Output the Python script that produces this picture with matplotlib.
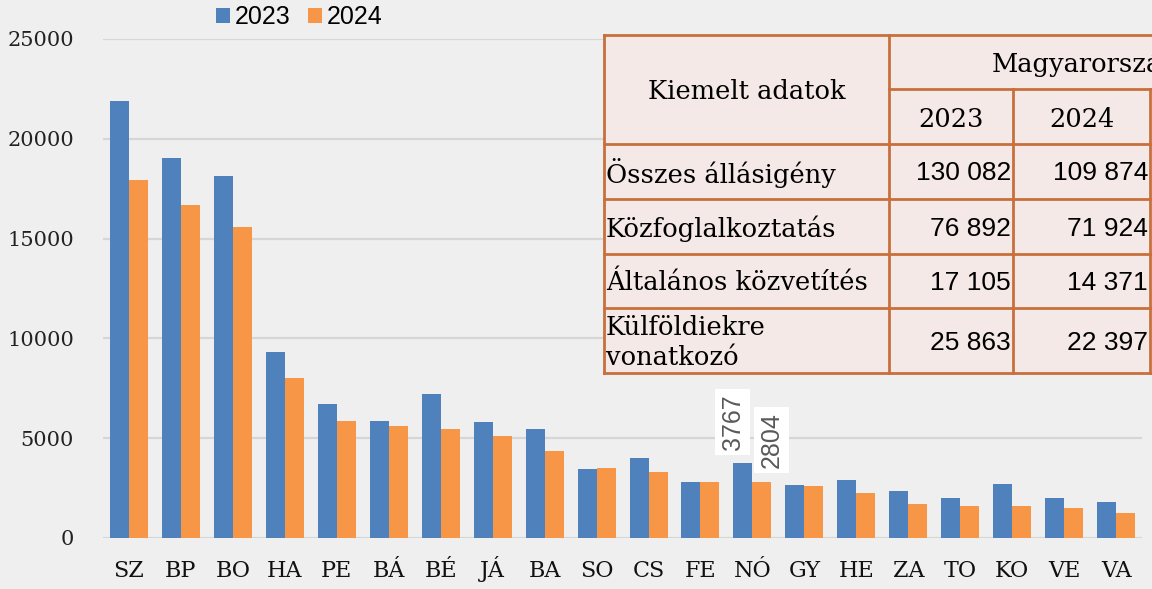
import matplotlib
matplotlib.use("Agg")
from matplotlib import pyplot as plt
from matplotlib.patches import Rectangle
import numpy as np

cats = ['SZ', 'BP', 'BO', 'HA', 'PE', 'BÁ', 'BÉ', 'JÁ', 'BA', 'SO',
        'CS', 'FE', 'NÓ', 'GY', 'HE', 'ZA', 'TO', 'KO', 'VE', 'VA']
v2023 = [21900, 19040, 18140, 9330, 6710, 5860, 7210, 5810, 5480, 3440,
         3990, 2830, 3767, 2650, 2900, 2330, 1990, 2680, 1990, 1810]
v2024 = [17940, 16680, 15580, 8020, 5860, 5610, 5480, 5110, 4380, 3500,
         3290, 2830, 2804, 2580, 2260, 1690, 1620, 1620, 1480, 1230]
years = ['2023', '2024']
yticks = [0, 5000, 10000, 15000, 20000, 25000]

tbl_rows = ['Összes állásigény', 'Közfoglalkoztatás', 'Általános közvetítés',
            'Külföldiekre\nvonatkozó']
tbl_2023 = ['130 082', '76 892', '17 105', '25 863']
tbl_2024 = ['109 874', '71 924', '14 371', '22 397']

blue = '#4F81BD'
orange = '#F79646'
bg = '#EFEFEF'
serif = 'DejaVu Serif'
sans = 'Liberation Sans'

fig = plt.figure(figsize=(11.52, 5.89), dpi=100, facecolor=bg)
ax = fig.add_axes([0.0894, 0.0866, 0.902, 0.8472])
ax.set_facecolor(bg)

x = np.arange(len(cats))
w = 0.366
ax.bar(x - w / 2, v2023, w, color=blue, label=years[0], zorder=3)
ax.bar(x + w / 2, v2024, w, color=orange, label=years[1], zorder=3)

ax.set_xlim(-0.5, len(cats) - 0.5)
ax.set_ylim(0, 25000)
ax.set_yticks(yticks)
ax.set_yticklabels([str(t) for t in yticks], fontfamily=serif, fontsize=15, color='#222222')
ax.set_xticks(x)
ax.set_xticklabels(cats, fontfamily=serif, fontsize=16, color='#111111')
ax.tick_params(length=0)
ax.tick_params(axis='y', pad=21)
ax.tick_params(axis='x', pad=28)
for lab in ax.get_xticklabels():
    lab.set_verticalalignment('baseline')
ax.grid(axis='y', color='#D6D6D6', lw=1.6, zorder=0)
for s in ax.spines.values():
    s.set_visible(False)

# data labels on NÓ
i = cats.index('NÓ')
ax.text(i - 0.38, 5810, str(v2023[i]), rotation=90, ha='center', va='center',
        fontfamily=sans, fontsize=18, color='#595959', zorder=5,
        bbox=dict(fc='white', ec='none', pad=4))
ax.text(i + 0.37, 4910, str(v2024[i]), rotation=90, ha='center', va='center',
        fontfamily=sans, fontsize=18, color='#595959', zorder=5,
        bbox=dict(fc='white', ec='none', pad=4))

fig.legend(loc='center', bbox_to_anchor=(0.26, 0.971), ncol=2, frameon=False,
           handlelength=0.55, handleheight=0.55, columnspacing=0.7, handletextpad=0.2,
           prop={'family': sans, 'size': 18})

# table overlay in pixel coordinates
ov = fig.add_axes([0, 0, 1, 1])
ov.set_xlim(0, 1152)
ov.set_ylim(589, 0)
ov.axis('off')
ov.patch.set_alpha(0)

cols = [604, 889, 1013, 1150]
rows = [35, 89, 144, 199, 254, 308, 373]
edge = '#C8703C'
fill = '#F4E9E6'
ov.add_patch(Rectangle((cols[0], rows[0]), 1160 - cols[0], rows[-1] - rows[0],
                       fc=fill, ec='none', zorder=1))
lw = 2.0
for y in rows:
    if y == rows[1]:
        ov.plot([cols[1], 1160], [y, y], color=edge, lw=lw, zorder=2)
    else:
        ov.plot([cols[0], 1160], [y, y], color=edge, lw=lw, zorder=2)
ov.plot([cols[0], cols[0]], [rows[0], rows[-1]], color=edge, lw=lw, zorder=2)
ov.plot([cols[1], cols[1]], [rows[0], rows[-1]], color=edge, lw=lw, zorder=2)
ov.plot([cols[2], cols[2]], [rows[1], rows[-1]], color=edge, lw=lw, zorder=2)
ov.plot([cols[3], cols[3]], [rows[1], rows[-1]], color=edge, lw=lw, zorder=2)

fs = 18.5
ov.text((cols[0] + cols[1]) / 2, (rows[0] + rows[2]) / 2 + 2, 'Kiemelt adatok',
        ha='center', va='center', fontfamily=serif, fontsize=fs, color='black', zorder=3)
# header runs past the right edge, as in the source
ov.text(992, (rows[0] + rows[1]) / 2 + 2, 'Magyarország', ha='left', va='center',
        fontfamily=serif, fontsize=fs, color='black', zorder=3)
ov.text((cols[1] + cols[2]) / 2, (rows[1] + rows[2]) / 2 + 3, years[0], ha='center',
        va='center', fontfamily=serif, fontsize=fs, color='black', zorder=3)
ov.text((cols[2] + cols[3]) / 2, (rows[1] + rows[2]) / 2 + 3, years[1], ha='center',
        va='center', fontfamily=serif, fontsize=fs, color='black', zorder=3)
for k in range(len(tbl_rows)):
    yc = (rows[k + 2] + rows[k + 3]) / 2
    ov.text(cols[0] + 2, yc + 2, tbl_rows[k], ha='left', va='center', fontfamily=serif,
            fontsize=fs, color='black', zorder=3, linespacing=1.25)
    ov.text(cols[2] - 2, yc + 2, tbl_2023[k], ha='right', va='center', fontfamily=sans,
            fontsize=19, color='black', zorder=3)
    ov.text(cols[3] - 2, yc + 2, tbl_2024[k], ha='right', va='center', fontfamily=sans,
            fontsize=19, color='black', zorder=3)

fig.savefig('out.png', dpi=100, facecolor=bg)
